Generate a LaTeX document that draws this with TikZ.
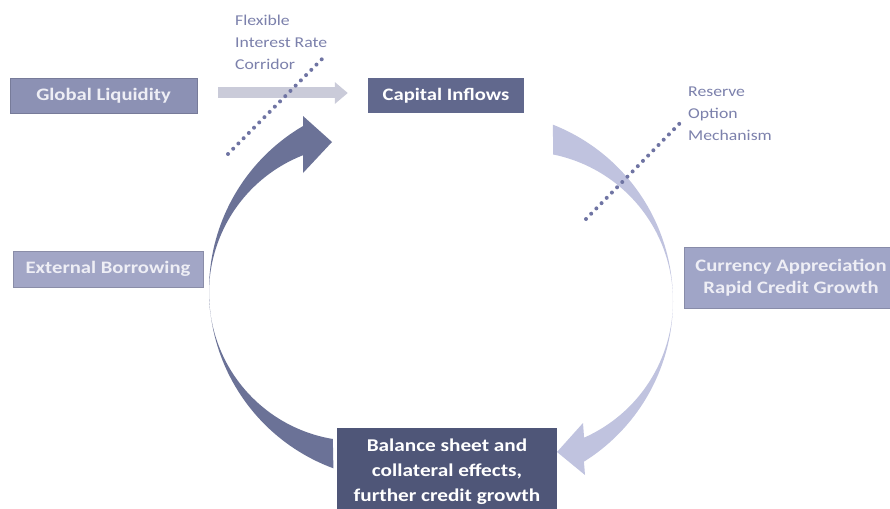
\documentclass[tikz,border=0pt]{standalone}
\usepackage{fontspec}
\setmainfont{Carlito}[FakeStretch=1.18]
\usetikzlibrary{arrows.meta}

\definecolor{glfill}{HTML}{8C91B4}
\definecolor{cifill}{HTML}{61688D}
\definecolor{ebfill}{HTML}{A2A6C6}
\definecolor{cafill}{HTML}{A0A5C7}
\definecolor{bsfill}{HTML}{4F5678}
\definecolor{arcdark}{HTML}{6B7297}
\definecolor{arclight}{HTML}{C0C3DF}
\definecolor{flowgray}{HTML}{CACBD9}
\definecolor{note}{HTML}{7C81AC}
\definecolor{dotcol}{HTML}{6F74A3}
\definecolor{softtext}{HTML}{EEEEF5}

\begin{document}
\begin{tikzpicture}[x=1pt,y=-1pt,
  box/.style={rectangle, inner sep=0pt, align=center,
    font=\fontsize{17.5}{22}\selectfont\bfseries},
  lightbox/.style={box, text=softtext, draw=#1!85!black, line width=0.8pt, fill=#1},
  darkbox/.style={box, text=white, fill=#1},
  notetext/.style={inner sep=0pt, align=left, text=note, anchor=north west,
    font=\fontsize{15}{22}\selectfont},
  dotline/.style={dotcol, line width=4pt, dash pattern=on 0pt off 7.4pt, line cap=round},
  flow/.style={flowgray, line width=11pt, -{Triangle[width=21pt,length=13pt]}}]
\useasboundingbox (0,0) rectangle (890,508);
\fill[white] (0,0) rectangle (890,508);
\clip (0,0) rectangle (890,508);

% curved return arrow on the left (dark)
\fill[arcdark]
  plot[domain=110.2:239.7, samples=80] ({399+190*cos(\x)},{290+190*sin(\x)})
  -- (303,116) -- (332,142) -- (303,173)
  -- plot[domain=248.6:99.4, samples=80] ({357+148*cos(\x)},{293+148*sin(\x)})
  -- cycle;

% curved arrow on the right (light)
\fill[arclight]
  plot[domain=-68.5:58, samples=80] ({483.5+189.5*cos(\x)},{301+189.5*sin(\x)})
  -- (585,475) -- (557,452) -- (583,423)
  -- plot[domain=66.1:-78.6, samples=80] ({523.5+149.5*cos(\x)},{301+149.5*sin(\x)})
  -- cycle;

% boxes
\node[lightbox=glfill, minimum width=187pt, minimum height=35pt] (gl) at (103.5,95.5) {Global Liquidity};
\node[darkbox=cifill, minimum width=156pt, minimum height=35pt] (ci) at (446,95.5) {Capital Inflows};
\node[lightbox=ebfill, minimum width=190pt, minimum height=36pt] (eb) at (108,269) {External Borrowing};
\node[lightbox=cafill, minimum width=214pt, minimum height=61pt] (ca) at (791,277.5) {Currency Appreciation\\Rapid Credit Growth};
\node[darkbox=bsfill, minimum width=220pt, minimum height=88pt,
  font=\fontsize{18}{25}\selectfont\bfseries] (bs) at (447,472) {Balance sheet and\\collateral effects,\\further credit growth};

% straight flow
\draw[flow, shorten <=21pt, shorten >=20pt] ([yshift=2.5pt]gl.east) -- ([yshift=2.5pt]ci.west);

% policy annotations
\node[notetext] (irc) at (235,15) {Flexible\\Interest Rate\\Corridor};
\node[notetext] (rom) at (688,87) {Reserve\\Option\\Mechanism};

\coordinate (d1a) at (228,154);
\coordinate (d1b) at (324,57);
\draw[dotline] (d1a) -- (d1b);
\coordinate (d2a) at (586,219);
\coordinate (d2b) at (684,119);
\draw[dotline] (d2a) -- (d2b);
\end{tikzpicture}
\end{document}
